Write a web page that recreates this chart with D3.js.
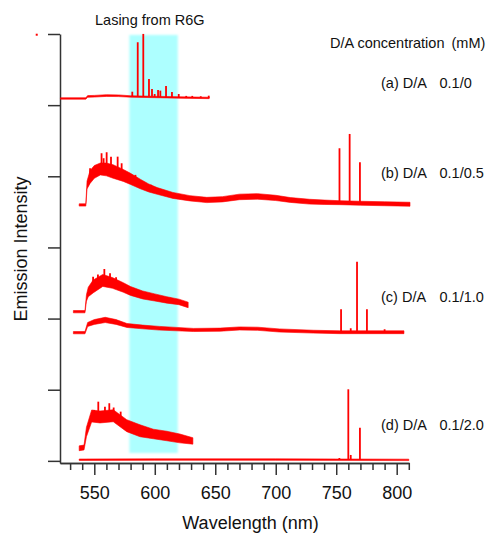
<!DOCTYPE html>
<meta charset="utf-8">
<style>
body { margin: 0; background: #fff; }
svg { font-family: "Liberation Sans", Arial, sans-serif; }
.axis path, .axis line { stroke: #333; stroke-width: 1.5px; }
.axis text { font-size: 18px; fill: #111; font-family: "Liberation Sans", Arial, sans-serif; }
.band { fill: #adffff; }
.trace { fill: red; stroke: red; stroke-width: 0.6px; stroke-linejoin: round; }
.spike { stroke: red; stroke-width: 1.8px; }
.lbl { font-size: 14.5px; fill: #111; }
.title { font-size: 18px; fill: #111; }
</style>
<body>
<script src="https://d3js.org/d3.v7.min.js"></script>
<script>

// spectra: [wavelength (nm), stacked intensity, noise half-width]
let specA = [[522,5.094,0.010],[543,5.094,0.010],[544.5,5.122,0.012],[550,5.125,0.012],[560,5.135,0.012],
    [570,5.132,0.012],[580,5.122,0.010],[600,5.115,0.010],[620,5.108,0.010],[645,5.101,0.010]];
let specB = [[537.5,3.597,0.016],[543,3.597,0.016],[544,3.878,0.055],[546.5,3.990,0.090],[550,4.061,0.090],
    [555,4.103,0.084],[560,4.096,0.090],[565.5,4.068,0.095],[574,4.012,0.084],[580,3.963,0.078],
    [588,3.892,0.067],[595,3.836,0.056],[602,3.794,0.047],[615,3.731,0.042],[629,3.691,0.037],
    [643,3.667,0.037],[656,3.677,0.037],[670,3.710,0.039],[685,3.717,0.039],[700,3.696,0.037],
    [712,3.667,0.034],[728,3.643,0.034],[740,3.635,0.031],[753,3.629,0.028],[770,3.621,0.028],
    [790,3.614,0.028],[811,3.607,0.028]];
let specC1 = [[532.7,2.097,0.016],[542.3,2.097,0.016],[543.5,2.290,0.045],[545,2.374,0.067],[549,2.451,0.090],
    [557,2.536,0.084],[565,2.501,0.075],[574,2.437,0.067],[580,2.388,0.062],[590,2.332,0.056],
    [600,2.297,0.050],[610,2.262,0.045],[620,2.234,0.039],[627.6,2.192,0.039]];
let specC2 = [[532.7,1.802,0.016],[542.3,1.802,0.016],[544.5,1.917,0.028],[550,1.952,0.034],[559,1.981,0.037],
    [568,1.952,0.034],[577,1.903,0.028],[590,1.882,0.026],[604,1.864,0.026],[632,1.840,0.022],
    [654,1.844,0.022],[670,1.861,0.022],[685,1.857,0.022],[703,1.833,0.022],[731,1.816,0.020],
    [753,1.808,0.020],[806,1.808,0.020]];
let specD1 = [[537.5,0.177,0.034],[541.5,0.188,0.034],[543.5,0.406,0.067],[547.8,0.631,0.084],[554.7,0.617,0.084],
    [565.7,0.634,0.084],[576.8,0.495,0.084],[587.8,0.423,0.084],[598.8,0.378,0.067],[609.8,0.350,0.067],
    [620.8,0.315,0.062],[631.5,0.280,0.045]];
let specD2 = [[537.5,0.016,0.010],[600,0.018,0.010],[700,0.018,0.010],[810,0.014,0.010]];

// sharp lines (lasing + noise spikes): [wavelength, base, top]
let peaksA = [[581.4,5.12,5.189],[585.9,5.12,5.884],[590.5,5.12,6.001],[595.2,5.12,5.368],[597.7,5.12,5.228],
    [599.9,5.115,5.157],[602.7,5.115,5.214],[604.6,5.115,5.204],[609.3,5.112,5.270],[614.2,5.11,5.186],
    [619.8,5.108,5.157],[626,5.106,5.13],[631,5.105,5.13],[638,5.103,5.125],[644.6,5.101,5.133]];
let peaksB = [[546.5,4.0,4.113],[556,4.1,4.324],[557.7,4.1,4.254],[560.2,4.1,4.338],[563.8,4.08,4.276],
    [569.3,4.05,4.276],[572.6,4.02,4.183],[584,3.93,4.02],[597,3.83,3.88],
    [752.7,3.629,4.394],[761.1,3.625,4.595],[769.6,3.622,4.197]];
let peaksC1 = [[549,2.45,2.589],[553,2.5,2.62],[558.3,2.53,2.697],[563,2.5,2.637],[568,2.47,2.58],[612.6,2.25,2.294]];
let peaksC2 = [[754,1.808,2.131],[762,1.808,1.864],[767.2,1.808,2.800],[775.4,1.808,2.131],[790,1.808,1.850]];
let peaksD1 = [[549.9,0.62,0.715],[553.3,0.62,0.832],[558.8,0.62,0.762],[562.4,0.63,0.810],[566,0.6,0.75],
    [571.8,0.55,0.692],[592,0.4,0.46],[609.8,0.35,0.410]];
let peaksD2 = [[752.6,0.016,0.040],[760,0.016,1.006],[762,0.016,0.083],[769.6,0.016,0.467]];

let strayDot = [[502.4, 5.99]];

// R6G lasing window (nm) and its vertical extent
let laseBand = [579, 619];
let laseLevels = [0.111, 5.987];

let sampleTags = ["(a) D/A", "(b) D/A", "(c) D/A", "(d) D/A"];
let ratios = ["0.1/0", "0.1/0.5", "0.1/1.0", "0.1/2.0"];

let xMajor = [550, 600, 650, 700, 750, 800];
let xMinor = [530, 540, 560, 570, 580, 590, 610, 620, 630, 640, 660, 670, 680, 690, 710, 720, 730, 740, 760, 770, 780, 790, 810];
let yTicks = [0, 1, 2, 3, 4, 5, 6];

let width = 486, height = 534;

let x = d3.scaleLinear().domain([521.64, 810.17]).range([60, 409]);
let y = d3.scaleLinear().domain([-0.03, 6]).range([463, 34]);

let svg = d3.select("body").append("svg")
    .attr("width", width)
    .attr("height", height);

let defs = svg.append("defs");
defs.append("filter").attr("id", "soft")
    .attr("x", "-10%").attr("y", "-2%").attr("width", "120%").attr("height", "104%")
    .append("feGaussianBlur").attr("stdDeviation", 1);

// lasing window
svg.append("rect")
    .attr("class", "band")
    .attr("x", x(laseBand[0]))
    .attr("width", x(laseBand[1]) - x(laseBand[0]))
    .attr("y", y(laseLevels[1]))
    .attr("height", y(laseLevels[0]) - y(laseLevels[1]))
    .attr("filter", "url(#soft)");

// axes
svg.append("g")
    .attr("class", "axis")
    .attr("transform", "translate(0," + y.range()[0] + ")")
    .call(d3.axisBottom(x).tickValues(xMinor).tickSize(7).tickSizeOuter(0).tickFormat(""));
svg.append("g")
    .attr("class", "axis")
    .attr("transform", "translate(0," + y.range()[0] + ")")
    .call(d3.axisBottom(x).tickValues(xMajor).tickSize(12).tickSizeOuter(0).tickPadding(11.5).tickFormat(d3.format("d")));
svg.append("g")
    .attr("class", "axis")
    .attr("transform", "translate(" + x.range()[0] + ",0)")
    .call(d3.axisLeft(y).tickValues(yTicks).tickSize(12).tickSizeOuter(0).tickFormat(""));

// spectra
let band = d3.area()
    .x(function (d) { return x(d[0]); })
    .y0(function (d) { return y(d[1] - d[2]); })
    .y1(function (d) { return y(d[1] + d[2]); });

[specA, specB, specC1, specC2, specD1, specD2].forEach(function (s) {
    svg.append("path").datum(s).attr("class", "trace").attr("d", band);
});

[peaksA, peaksB, peaksC1, peaksC2, peaksD1, peaksD2].forEach(function (p) {
    svg.selectAll(null).data(p).enter().append("line")
        .attr("class", "spike")
        .attr("x1", function (d) { return x(d[0]); })
        .attr("x2", function (d) { return x(d[0]); })
        .attr("y1", function (d) { return y(d[1]); })
        .attr("y2", function (d) { return y(d[2]); });
});

svg.selectAll(null).data(strayDot).enter().append("rect")
    .attr("x", function (d) { return x(d[0]) - 1; })
    .attr("y", function (d) { return y(d[1]) - 1; })
    .attr("width", 2).attr("height", 2)
    .attr("fill", "red");

// text
let tagLevels = [5.242, 3.977, 2.233, 0.434];
svg.selectAll(null).data(sampleTags).enter().append("text")
    .attr("class", "lbl")
    .attr("x", 381)
    .attr("y", function (d, i) { return y(tagLevels[i]); })
    .text(function (d) { return d; });
svg.selectAll(null).data(ratios).enter().append("text")
    .attr("class", "lbl")
    .attr("x", 439.5)
    .attr("y", function (d, i) { return y(tagLevels[i]); })
    .text(function (d) { return d; });

svg.append("text").attr("class", "lbl").attr("x", 330).attr("y", 47.5).text("D/A concentration");
svg.append("text").attr("class", "lbl").attr("x", 451.5).attr("y", 47.5).text("(mM)");
svg.append("text").attr("class", "lbl").attr("x", 95).attr("y", 25).text("Lasing from R6G");

svg.append("text").attr("class", "title")
    .attr("text-anchor", "middle")
    .attr("x", 250.5).attr("y", 529)
    .text("Wavelength (nm)");
svg.append("text").attr("class", "title")
    .attr("text-anchor", "middle")
    .attr("transform", "translate(27,249) rotate(-90)")
    .text("Emission Intensity");

</script>
</body>
